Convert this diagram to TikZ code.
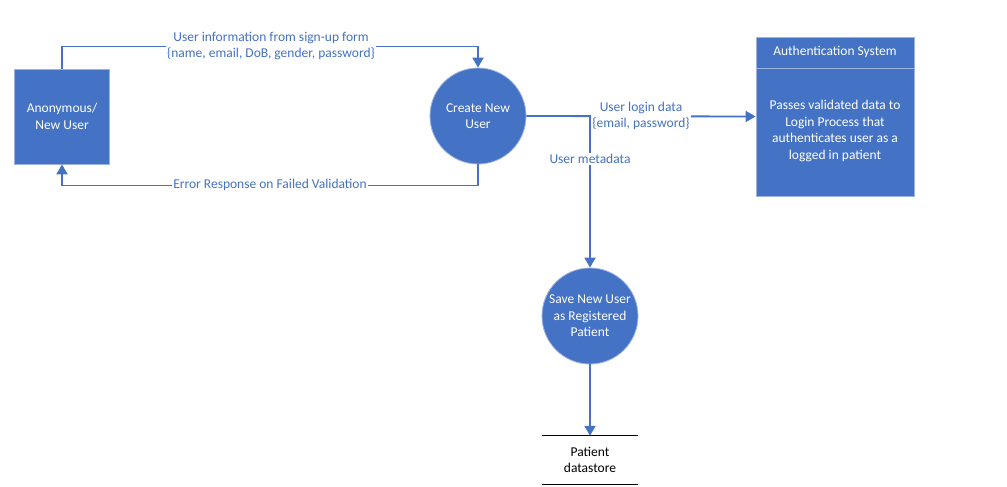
\documentclass[tikz,border=0pt]{standalone}
\usepackage{fontspec}
\setmainfont{Carlito}
\usetikzlibrary{arrows.meta}
\definecolor{wblue}{HTML}{4472C4}
\definecolor{wedge}{HTML}{9DB3DE}
\tikzset{
  flow/.style={draw=wblue, line width=1.8pt, -{Triangle[width=11pt,length=10pt]}},
  txt/.style={font=\fontsize{13.5}{16.5}\selectfont, align=center, inner sep=1pt},
  lbl/.style={txt, fill=white, text=wblue},
  extent/.style={txt, fill=wblue, draw=wedge, line width=0.8pt, text=white, minimum width=95pt, minimum height=95pt},
  proc/.style={txt, circle, fill=wblue, draw=wedge, line width=0.8pt, text=white, minimum size=96pt},
  authbox/.style={fill=wblue, draw=wedge, line width=0.8pt, minimum width=158pt, minimum height=159pt, inner sep=0pt},
  store/.style={txt, minimum width=96pt, minimum height=48pt}
}
\begin{document}
\begin{tikzpicture}[x=1pt,y=-1pt]
\useasboundingbox (0,0) rectangle (1007,487);
% nodes
\node[extent] (anon) at (62,116.5) {Anonymous/\\New User};
\node[proc] (create) at (478,116) {Create New\\User};
\node[proc] (save) at (590,316) {Save New User\\as Registered\\Patient};
\node[authbox] (auth) at (835,116.5) {};
\coordinate (divl) at (756,68);
\coordinate (divr) at (914,68);
\draw[draw=wedge, line width=0.8pt] (divl) -- (divr);
\node[txt, text=white] (authhead) at (835,52) {Authentication System};
\node[txt, text=white] (authbody) at (835,131) {Passes validated data to\\Login Process that\\authenticates user as a\\logged in patient};
\node[store] (ds) at (590,460) {Patient\\datastore};
\draw[line width=0.8pt] (ds.north west) -- (ds.north east);
\draw[line width=0.8pt] (ds.south west) -- (ds.south east);
% connectors
\coordinate (j) at (590,116);
\draw[flow] (anon.north) -- ++(0,-22) -| (create.north);
\draw[flow] (create.south) -- ++(0,21) -| (anon.south);
\draw[flow] (create.east) -- (auth.west);
\draw[flow] (j) -- (save.north);
\draw[flow] (save.south) -- (ds.north);
% labels
\node[lbl] (l1) at (271,46) {User information from sign-up form\\\{name, email, DoB, gender, password\}};
\node[lbl] (l2) at (270,185) {Error Response on Failed Validation};
\node[lbl] (l3) at (641,116) {User login data\\\{email, password\}};
\node[lbl] (l4) at (590,159) {User metadata};
\end{tikzpicture}
\end{document}
